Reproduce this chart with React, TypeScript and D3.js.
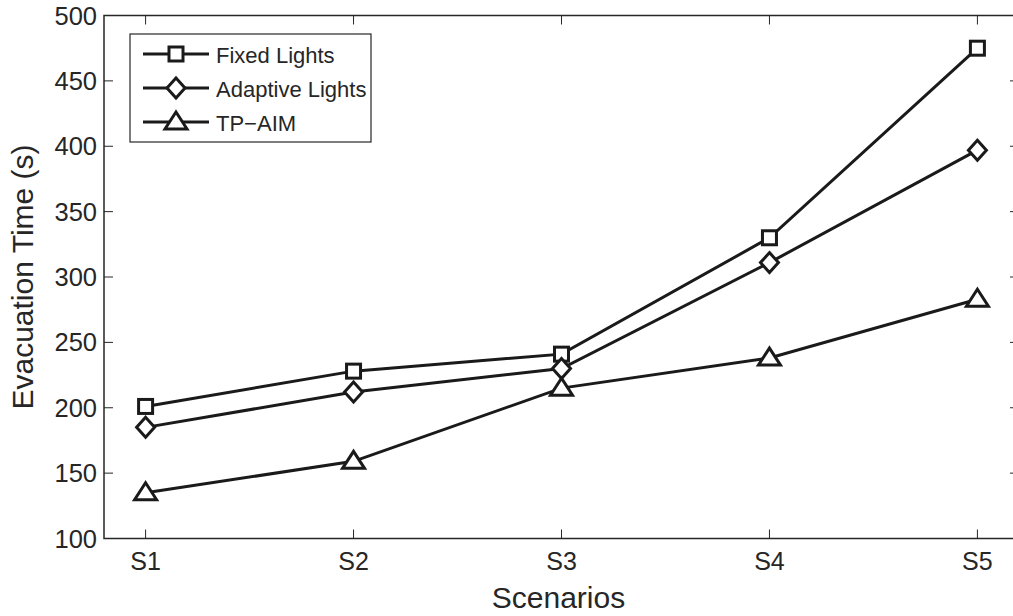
import React from "react";
import * as d3 from "d3";

const categories = ["S1", "S2", "S3", "S4", "S5"];
const fixedLights = [201, 228, 241, 330, 475];
const adaptiveLights = [185, 212, 230, 311, 397];
const tpAim = [135, 159, 215, 238, 283];
const yTicks = [100, 150, 200, 250, 300, 350, 400, 450, 500];

const series = [
  { name: "Fixed Lights", values: fixedLights, marker: "square" },
  { name: "Adaptive Lights", values: adaptiveLights, marker: "diamond" },
  { name: "TP\u2212AIM", values: tpAim, marker: "triangle" },
];

const W = 1013, H = 616;
const L = 104, R = 1019, T = 15.5, B = 538.5;
const ink = "#262626";
const font = "'Liberation Sans', Arial, Helvetica, sans-serif";

function Marker({ type, x, y }: { type: string; x: number; y: number }) {
  const common = { fill: "white", stroke: "#1a1a1a", strokeWidth: 3, strokeLinejoin: "miter" as const };
  if (type === "square") return <rect x={x - 7} y={y - 7} width={14} height={14} {...common} />;
  if (type === "diamond")
    return <path d={`M${x},${y - 10}L${x + 9},${y}L${x},${y + 10}L${x - 9},${y}Z`} {...common} />;
  return <path d={`M${x},${y - 10}L${x + 11},${y + 7}L${x - 11},${y + 7}Z`} {...common} />;
}

export default function App() {
  const x = d3.scaleLinear().domain([0.8, 5.2]).range([L, R]);
  const y = d3.scaleLinear().domain([100, 500]).range([B, T]);
  const line = d3
    .line<number>()
    .x((_, i) => x(i + 1))
    .y((d) => y(d));

  const legX = 130, legY = 34, legW = 241, legH = 108;
  const rowY = [54, 88, 122];

  return (
    <svg width={W} height={H} style={{ position: "absolute", left: 0, top: 0, background: "white" }} fontFamily={font}>
      <rect x={0} y={0} width={W} height={H} fill="white" />
      {/* frame */}
      <rect x={L} y={T} width={R - L} height={B - T} fill="none" stroke={ink} strokeWidth={1.5} />
      {/* y ticks */}
      {yTicks.map((t) => (
        <g key={t}>
          <line x1={L} x2={L + 9} y1={y(t)} y2={y(t)} stroke={ink} strokeWidth={1} />
          <line x1={R} x2={R - 9} y1={y(t)} y2={y(t)} stroke={ink} strokeWidth={1} />
          <text x={97} y={y(t) + 9} textAnchor="end" fontSize={25.5} fill={ink}>
            {t}
          </text>
        </g>
      ))}
      {/* x ticks */}
      {categories.map((c, i) => (
        <g key={c}>
          <line x1={x(i + 1)} x2={x(i + 1)} y1={B} y2={B - 9} stroke={ink} strokeWidth={1} />
          <line x1={x(i + 1)} x2={x(i + 1)} y1={T} y2={T + 9} stroke={ink} strokeWidth={1} />
          <text x={x(i + 1)} y={569.5} textAnchor="middle" fontSize={25} fill={ink}>
            {c}
          </text>
        </g>
      ))}
      <text x={(L + 1013) / 2} y={608} textAnchor="middle" fontSize={30} fill={ink}>
        Scenarios
      </text>
      <text
        transform={`translate(33,${(T + B) / 2}) rotate(-90)`}
        textAnchor="middle"
        fontSize={30}
        fill={ink}
      >
        Evacuation Time (s)
      </text>
      {/* series */}
      {series.map((s) => (
        <g key={s.name}>
          <path d={line(s.values) || ""} fill="none" stroke="#1a1a1a" strokeWidth={3} />
          {s.values.map((v, i) => (
            <Marker key={i} type={s.marker} x={x(i + 1)} y={y(v)} />
          ))}
        </g>
      ))}
      {/* legend */}
      <rect x={legX} y={legY} width={legW} height={legH} fill="white" stroke={ink} strokeWidth={1.2} />
      {series.map((s, i) => (
        <g key={s.name}>
          <line x1={143} x2={209} y1={rowY[i]} y2={rowY[i]} stroke="#1a1a1a" strokeWidth={3} />
          <Marker type={s.marker} x={176} y={rowY[i]} />
          <text x={216} y={rowY[i] + 8.5} fontSize={22} fill={ink}>
            {s.name}
          </text>
        </g>
      ))}
    </svg>
  );
}
